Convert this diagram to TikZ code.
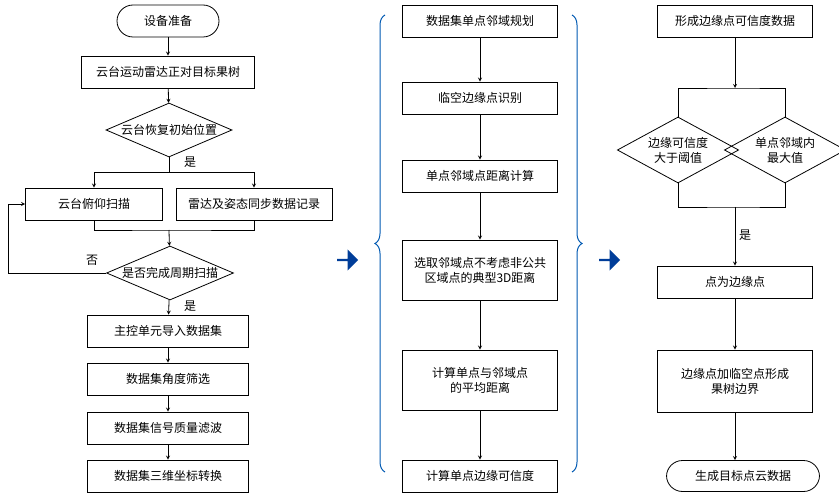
\documentclass[tikz,border=0pt]{standalone}
\usepackage{fontspec}
\setmainfont{Noto Sans CJK SC}
\usetikzlibrary{shapes.geometric, shapes.arrows, decorations.pathreplacing, positioning}

\begin{document}
\begin{tikzpicture}[x=1pt, y=-1pt, font=\fontsize{12}{15}\selectfont, line width=0.8pt,
	every node/.style={inner sep=0pt},
	box/.style={draw, minimum height=32pt, align=center},
	term/.style={draw, rounded corners=16pt, minimum height=32pt},
	dia/.style={draw, diamond, aspect=2.35, align=center},
	arr/.style={->, >=stealth},
	brace/.style={draw=blue!50!cyan!70!black, line width=1pt, decorate, decoration={brace, amplitude=10pt}},
	big/.style={single arrow, fill=blue!60!cyan!60!black, minimum height=21pt, minimum width=21pt, single arrow head extend=3pt}]
	\useasboundingbox (0,0) rectangle (839,500);
	
	% left column
	\node[term, minimum width=102pt] (a1) at (168,21) {设备准备};
	\node[box, minimum width=173pt] (a2) at (168,72) {云台运动雷达正对目标果树};
	\node[dia, minimum width=126pt, minimum height=54pt] (a3) at (169,130) {云台恢复初始位置};
	\node[box, minimum width=137pt] (a4) at (94,204) {云台俯仰扫描};
	\node[box, minimum width=156pt] (a5) at (254,204) {雷达及姿态同步数据记录};
	\node[dia, minimum width=127pt, minimum height=54pt] (a6) at (170,273) {是否完成周期扫描};
	\node[box, minimum width=161pt] (a7) at (168,331) {主控单元导入数据集};
	\node[box, minimum width=161pt] (a8) at (168,379) {数据集角度筛选};
	\node[box, minimum width=161pt] (a9) at (168,428) {数据集信号质量滤波};
	\node[box, minimum width=161pt] (a10) at (168,476) {数据集三维坐标转换};
	\coordinate (m1) at (169,172);
	\coordinate (m2) at (169,230);
	\coordinate (lp) at (8,273);
	
	\draw[arr] (a1) -- (a2);
	\draw[arr] (a2) -- (a3);
	\draw (a3) -- (m1);
	\draw[arr] (m1) -| (a4);
	\draw[arr] (m1) -| (a5);
	\draw (a4) |- (m2) -| (a5);
	\draw[arr] (m2) -- (a6);
	\draw[arr] (a6.west) -- (lp) |- (a4.west);
	\draw[arr] (a6) -- (a7);
	\draw[arr] (a7) -- (a8);
	\draw[arr] (a8) -- (a9);
	\draw[arr] (a9) -- (a10);
	\node at (190,162) {是};
	\node at (92,260) {否};
	\node at (190,306) {是};
	
	% middle column
	\node[box, minimum width=155pt] (b1) at (480,21) {数据集单点邻域规划};
	\node[box, minimum width=155pt] (b2) at (480,98) {临空边缘点识别};
	\node[box, minimum width=155pt] (b3) at (480,176) {单点邻域点距离计算};
	\node[box, minimum width=155pt, minimum height=60pt] (b4) at (480,270) {选取邻域点不考虑非公共\\区域点的典型3D距离};
	\node[box, minimum width=155pt, minimum height=60pt] (b5) at (480,380) {计算单点与邻域点\\的平均距离};
	\node[box, minimum width=155pt] (b6) at (480,476) {计算单点边缘可信度};
	\foreach \i/\j in {b1/b2, b2/b3, b3/b4, b4/b5, b5/b6}
		\draw[arr] (\i) -- (\j);
	\draw[brace] (385,472) -- (385,15);
	\draw[brace] (572,15) -- (572,472);
	\node[big] (p1) at (347,260) {};
	\node[big] (p2) at (609,260) {};
	
	% right column
	\node[box, minimum width=155pt] (c1) at (735,21) {形成边缘点可信度数据};
	\node[dia, minimum width=88pt, minimum height=66pt] (c2) at (678,150) {边缘可信度\\大于阈值};
	\node[dia, minimum width=88pt, minimum height=66pt] (c3) at (785,150) {单点邻域内\\最大值};
	\node[box, minimum width=155pt] (c4) at (735,282) {点为边缘点};
	\node[box, minimum width=155pt, minimum height=62pt] (c5) at (735,381) {边缘点加临空点形成\\果树边界};
	\node[term, minimum width=153pt, minimum height=31pt] (c6) at (743,476) {生成目标点云数据};
	\coordinate (n1) at (735,88);
	\coordinate (n2) at (735,207);
	\draw[arr] (c1) -- (n1);
	\draw (c2.north) |- (n1) -| (c3.north);
	\draw (c2.south) |- (n2) -| (c3.south);
	\draw[arr] (n2) -- (c4);
	\draw[arr] (c4) -- (c5);
	\draw[arr] (c5) -- (c6.north -| c5);
	\node at (745,235) {是};
\end{tikzpicture}
\end{document}
